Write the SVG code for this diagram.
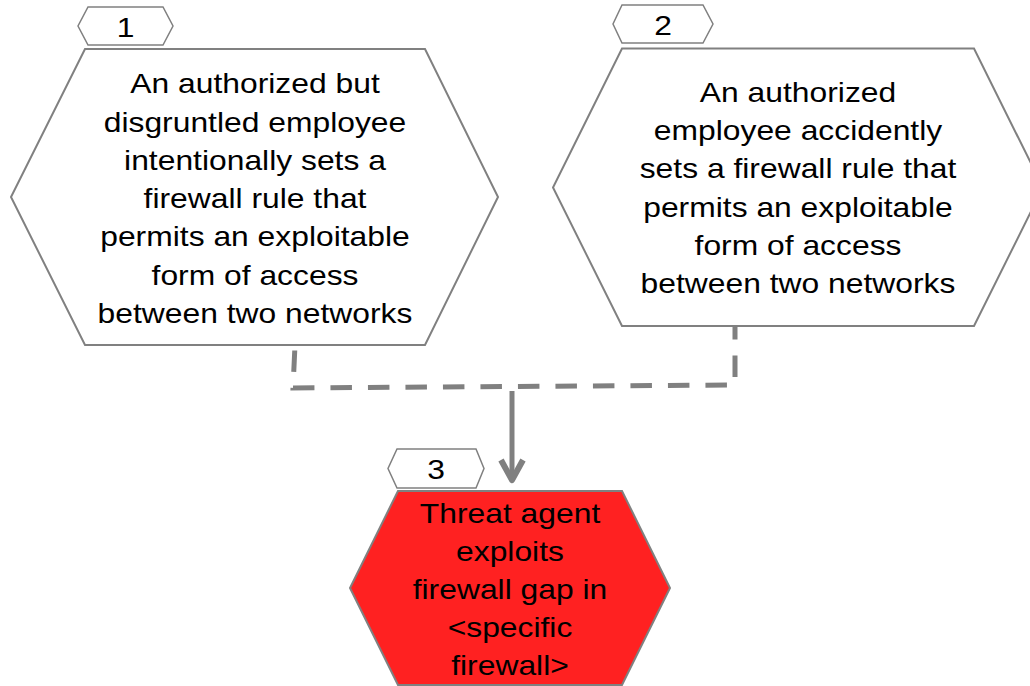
<svg xmlns="http://www.w3.org/2000/svg" width="1030" height="686" viewBox="0 0 1030 686">
  <style>
    .hex { fill: #ffffff; stroke: #808080; stroke-width: 2; }
    .hexred { fill: #ff2121; stroke: #808080; stroke-width: 2; }
    .tag { fill: #ffffff; stroke: #808080; stroke-width: 1.5; }
    .txt { font-family: "Liberation Sans", Arial, sans-serif; font-size: 28px; fill: #000000; text-anchor: middle; }
    .conn { fill: none; stroke: #808080; stroke-width: 5; }
    .dash { stroke-dasharray: 21.5 16; stroke-dashoffset: 32; }
  </style>
  <defs>
    <marker id="vhead" markerUnits="userSpaceOnUse" viewBox="-30 -20 40 40" markerWidth="40" markerHeight="40" refX="0" refY="0" orient="auto">
      <path d="M -20 -11 L 0 0 L -20 11" fill="none" stroke="#808080" stroke-width="6" stroke-linejoin="round" stroke-linecap="butt"/>
    </marker>
  </defs>
  <rect x="0" y="0" width="1030" height="686" fill="#ffffff"/>

  <g id="connectors">
    <path class="conn dash" d="M 295 345 L 293 388 L 735 385 L 735 326"/>
    <path class="conn" d="M 512 391 L 512 480" marker-end="url(#vhead)"/>
  </g>

  <g id="node1">
    <polygon class="hex" points="85,49 425,49 498,197 425,345 85,345 11,197"/>
    <polygon class="tag" points="88,7 163,7 173,26 163,45 88,45 78,26"/>
    <g transform="translate(125.5,0) scale(1.137,1)">
      <text class="txt" x="0" y="37">1</text>
    </g>
    <g transform="translate(255,0) scale(1.137,1)">
      <text class="txt" x="0" y="93.3">An authorized but</text>
      <text class="txt" x="0" y="131.6">disgruntled employee</text>
      <text class="txt" x="0" y="169.9">intentionally sets a</text>
      <text class="txt" x="0" y="208.2">firewall rule that</text>
      <text class="txt" x="0" y="246.5">permits an exploitable</text>
      <text class="txt" x="0" y="284.8">form of access</text>
      <text class="txt" x="0" y="323.1">between two networks</text>
    </g>
  </g>

  <g id="node2">
    <polygon class="hex" points="622,48.5 974,48.5 1043,187.5 974,326 622,326 553,187.5"/>
    <polygon class="tag" points="622,5 703,5 713,24 703,43 622,43 613,24"/>
    <g transform="translate(663,0) scale(1.137,1)">
      <text class="txt" x="0" y="35">2</text>
    </g>
    <g transform="translate(798,0) scale(1.137,1)">
      <text class="txt" x="0" y="101.7">An authorized</text>
      <text class="txt" x="0" y="140">employee accidently</text>
      <text class="txt" x="0" y="178.3">sets a firewall rule that</text>
      <text class="txt" x="0" y="216.6">permits an exploitable</text>
      <text class="txt" x="0" y="254.9">form of access</text>
      <text class="txt" x="0" y="293.2">between two networks</text>
    </g>
  </g>

  <g id="node3">
    <polygon class="hexred" points="398,491 622,491 670,588 622,685 398,685 350,588"/>
    <polygon class="tag" points="397,449 476,449 484,468.5 476,488 397,488 388,468.5"/>
    <g transform="translate(436,0) scale(1.137,1)">
      <text class="txt" x="0" y="479">3</text>
    </g>
    <g transform="translate(510,0) scale(1.137,1)">
      <text class="txt" x="0" y="523">Threat agent</text>
      <text class="txt" x="0" y="561">exploits</text>
      <text class="txt" x="0" y="599">firewall gap in</text>
      <text class="txt" x="0" y="637.5">&lt;specific</text>
      <text class="txt" x="0" y="675.5">firewall&gt;</text>
    </g>
  </g>
</svg>
